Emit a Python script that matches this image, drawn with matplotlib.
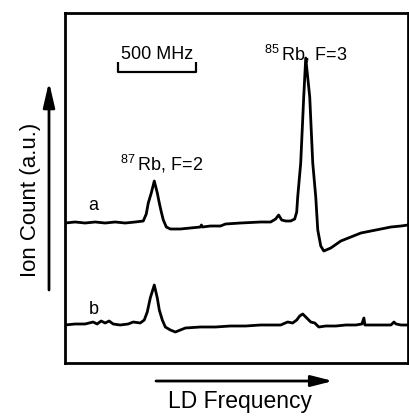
import matplotlib
matplotlib.use("Agg")
import matplotlib.pyplot as plt

plt.rcParams['font.family'] = ['Liberation Sans', 'DejaVu Sans']
plt.rcParams['mathtext.fontset'] = 'custom'
plt.rcParams['mathtext.rm'] = 'Liberation Sans'

# ---- data (laser frequency in arbitrary units, ion count in a.u.) ----
# trace a
freq_a = [0, 10, 20, 30, 40, 50, 60, 70, 78, 81, 83, 86, 89, 92, 94, 96, 98, 101,
          105, 115, 125, 135, 136, 137, 145, 155, 160, 175, 195, 205, 210, 213, 216,
          220, 225, 229, 231, 232, 235, 238, 240, 244, 247, 250, 252, 255, 258, 265,
          275, 285, 295, 305, 315, 325, 335, 342]
ion_a = [140, 141, 140, 141, 140, 141, 140, 141, 142, 149, 160, 170, 182, 170, 160, 151, 143, 136,
         134, 134, 135, 136, 138, 136, 137, 137, 139, 140, 141, 141, 144, 148, 143,
         142, 142, 144, 151, 166, 200, 266, 305, 266, 200, 166, 133, 117, 112, 115,
         122, 126, 130, 132, 134, 136, 137, 138]

# trace b
freq_b = [0, 10, 20, 28, 32, 36, 40, 44, 48, 55, 63, 68, 75, 79, 82, 85, 89, 92, 94, 97,
          100, 105, 110, 115, 120, 135, 150, 165, 180, 195, 215, 222, 227, 231, 234, 237,
          241, 245, 249, 253, 260, 270, 280, 290, 296, 298, 299, 310, 325, 328, 330, 335, 342]
ion_b = [38, 39, 39, 41, 39, 42, 40, 42, 39, 38, 39, 41, 40, 43, 51, 65, 78, 65, 53, 43,
         36, 33, 31, 33, 35, 36, 36, 37, 37, 38, 38, 41, 40, 43, 47, 49,
         45, 41, 40, 36, 37, 37, 38, 38, 39, 45, 38, 38, 38, 41, 39, 38, 38]

# 500 MHz scale bar span (same units as frequency)
bar_start = 53
bar_len = 78

fig = plt.figure(figsize=(4.09, 4.17), dpi=100)
ax = fig.add_axes([0.159, 0.1295, 0.8386, 0.8393])

ax.plot(freq_a, ion_a, color='black', lw=2.0, solid_joinstyle='round')
ax.plot(freq_b, ion_b, color='black', lw=2.0, solid_joinstyle='round')

ax.set_xlim(0, 342)
ax.set_ylim(0, 350)
ax.set_xticks([])
ax.set_yticks([])
for sp in ax.spines.values():
    sp.set_linewidth(2.0)

# scale bar
ax.plot([bar_start, bar_start, bar_start + bar_len, bar_start + bar_len],
        [301, 291, 291, 301], color='black', lw=1.6, solid_capstyle='butt')
ax.text(bar_start + bar_len / 2, 304, '500 MHz', ha='center', va='baseline', fontsize=13)

# peak labels
ax.text(55, 193, r'$^{87}\,$Rb, F=2', ha='left', va='baseline', fontsize=13)
ax.text(198, 303, r'$^{85}\,$Rb, F=3', ha='left', va='baseline', fontsize=13)

# trace labels
ax.text(28, 158, 'a', ha='center', va='center', fontsize=13)
ax.text(29, 54, 'b', ha='center', va='center', fontsize=13)

# axis arrows outside the frame
ax.annotate('', xy=(0.1198, 0.8034), xytext=(0.1198, 0.3046),
            xycoords='figure fraction', textcoords='figure fraction',
            arrowprops=dict(arrowstyle='-|>,head_length=1.5,head_width=0.35',
                            lw=2.0, color='black', shrinkA=0, shrinkB=0,
                            mutation_scale=10))
ax.annotate('', xy=(0.8142, 0.0863), xytext=(0.3814, 0.0863),
            xycoords='figure fraction', textcoords='figure fraction',
            arrowprops=dict(arrowstyle='-|>,head_length=1.3,head_width=0.33',
                            lw=2.0, color='black', shrinkA=0, shrinkB=0,
                            mutation_scale=10))

fig.text(0.075, 0.52, 'Ion Count (a.u.)', rotation=90, ha='center', va='center',
         fontsize=16)
fig.text(0.587, 0.0216, 'LD Frequency', ha='center', va='baseline', fontsize=16.5)

fig.savefig('out.png', dpi=100)
